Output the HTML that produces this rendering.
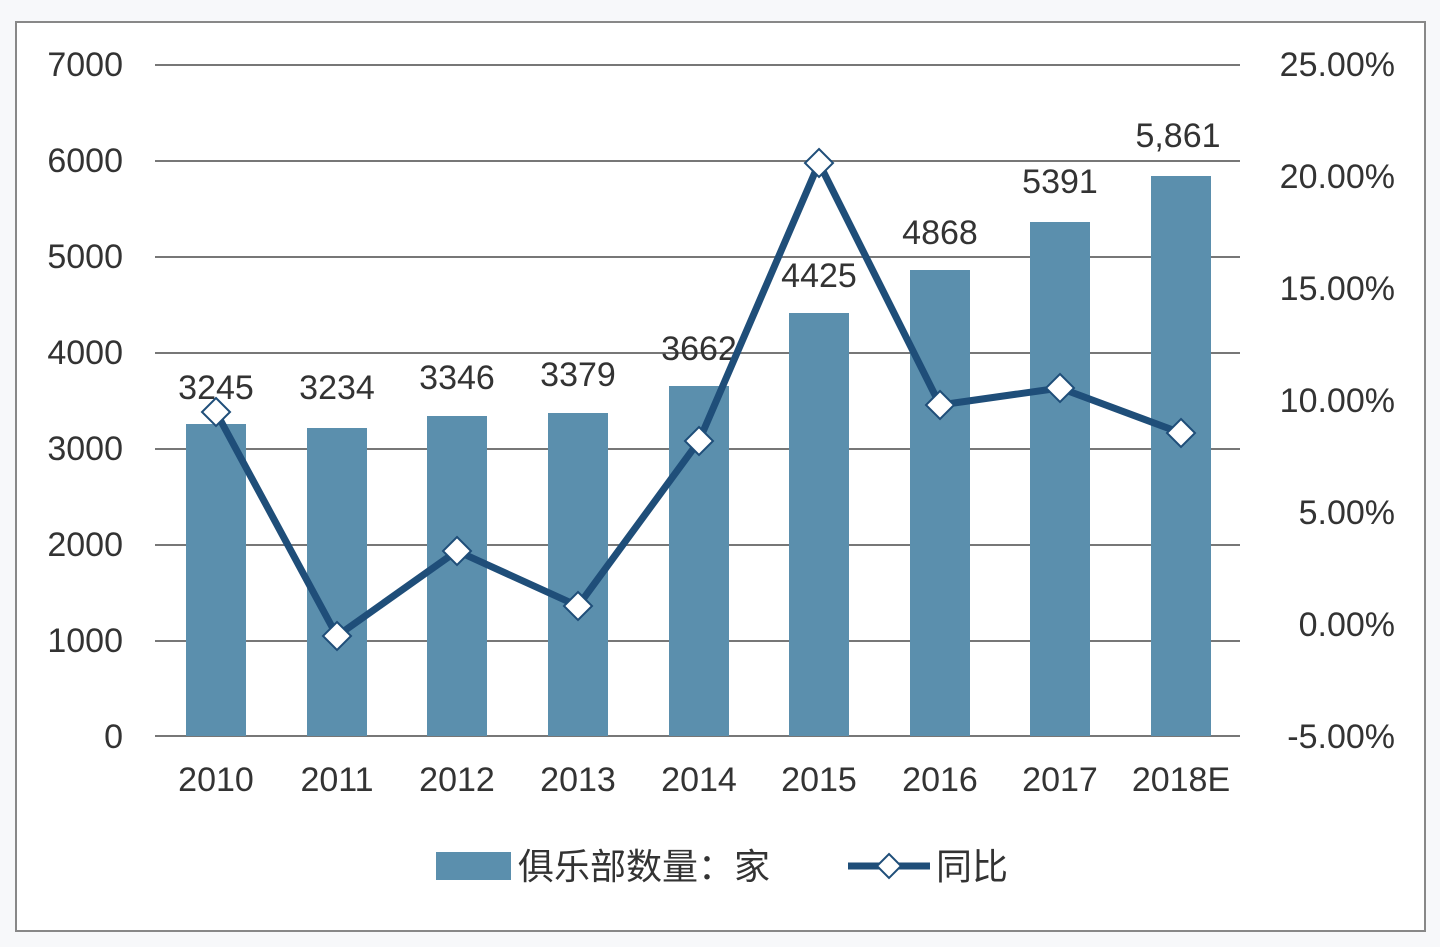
<!DOCTYPE html>
<html><head><meta charset="utf-8"><style>
html,body{margin:0;padding:0;background:#fff;}
svg{display:block;}
text{font-family:"Liberation Sans","Noto Sans CJK SC",sans-serif;fill:#333;}
</style></head><body>
<svg width="1440" height="947" xmlns="http://www.w3.org/2000/svg">
<rect x="0" y="0" width="1440" height="947" fill="#f7f8fa"/>
<rect x="16" y="22" width="1409" height="909" fill="#fff" stroke="#888" stroke-width="2"/>
<g stroke="#777" stroke-width="2">
<line x1="155" y1="65" x2="1240" y2="65"/>
<line x1="155" y1="161" x2="1240" y2="161"/>
<line x1="155" y1="257" x2="1240" y2="257"/>
<line x1="155" y1="353" x2="1240" y2="353"/>
<line x1="155" y1="449" x2="1240" y2="449"/>
<line x1="155" y1="545" x2="1240" y2="545"/>
<line x1="155" y1="641" x2="1240" y2="641"/>
<line x1="155" y1="736" x2="1240" y2="736"/>
</g>
<g font-size="34" text-anchor="end">
<text x="123" y="76">7000</text>
<text x="123" y="172">6000</text>
<text x="123" y="268">5000</text>
<text x="123" y="364">4000</text>
<text x="123" y="460">3000</text>
<text x="123" y="556">2000</text>
<text x="123" y="652">1000</text>
<text x="123" y="748">0</text>
</g>
<g font-size="34" text-anchor="end">
<text x="1395" y="76">25.00%</text>
<text x="1395" y="188">20.00%</text>
<text x="1395" y="300">15.00%</text>
<text x="1395" y="412">10.00%</text>
<text x="1395" y="524">5.00%</text>
<text x="1395" y="636">0.00%</text>
<text x="1395" y="748">-5.00%</text>
</g>
<g fill="#5b8fad">
<rect x="186" y="424" width="60" height="312"/>
<rect x="307" y="428" width="60" height="308"/>
<rect x="427" y="416" width="60" height="320"/>
<rect x="548" y="413" width="60" height="323"/>
<rect x="669" y="386" width="60" height="350"/>
<rect x="789" y="313" width="60" height="423"/>
<rect x="910" y="270" width="60" height="466"/>
<rect x="1030" y="222" width="60" height="514"/>
<rect x="1151" y="176" width="60" height="560"/>
</g>
<g font-size="34" text-anchor="middle">
<text x="216" y="399">3245</text>
<text x="337" y="399">3234</text>
<text x="457" y="389">3346</text>
<text x="578" y="386">3379</text>
<text x="699" y="360">3662</text>
<text x="819" y="287">4425</text>
<text x="940" y="244">4868</text>
<text x="1060" y="193">5391</text>
<text x="1178" y="147">5,861</text>
</g>
<polyline fill="none" stroke="#1f4e79" stroke-width="7" stroke-linejoin="round" points="216,412 337,636 457,551 578,606 699,441 819,163 940,405 1060,388 1181,433"/>
<g fill="#fff" stroke="#1f4e79" stroke-width="2">
<polygon points="216,398 230,412 216,426 202,412"/>
<polygon points="337,622 351,636 337,650 323,636"/>
<polygon points="457,537 471,551 457,565 443,551"/>
<polygon points="578,592 592,606 578,620 564,606"/>
<polygon points="699,427 713,441 699,455 685,441"/>
<polygon points="819,149 833,163 819,177 805,163"/>
<polygon points="940,391 954,405 940,419 926,405"/>
<polygon points="1060,374 1074,388 1060,402 1046,388"/>
<polygon points="1181,419 1195,433 1181,447 1167,433"/>
</g>
<g font-size="34" text-anchor="middle">
<text x="216" y="791">2010</text>
<text x="337" y="791">2011</text>
<text x="457" y="791">2012</text>
<text x="578" y="791">2013</text>
<text x="699" y="791">2014</text>
<text x="819" y="791">2015</text>
<text x="940" y="791">2016</text>
<text x="1060" y="791">2017</text>
<text x="1181" y="791">2018E</text>
</g>
<rect x="436" y="852" width="75" height="28" fill="#5b8fad"/>
<text x="518" y="879" font-size="36">俱乐部数量：家</text>
<line x1="848" y1="866" x2="930" y2="866" stroke="#1f4e79" stroke-width="7"/>
<polygon points="889,854 901,866 889,878 877,866" fill="#fff" stroke="#1f4e79" stroke-width="2"/>
<text x="936" y="879" font-size="36">同比</text>
</svg>
</body></html>
